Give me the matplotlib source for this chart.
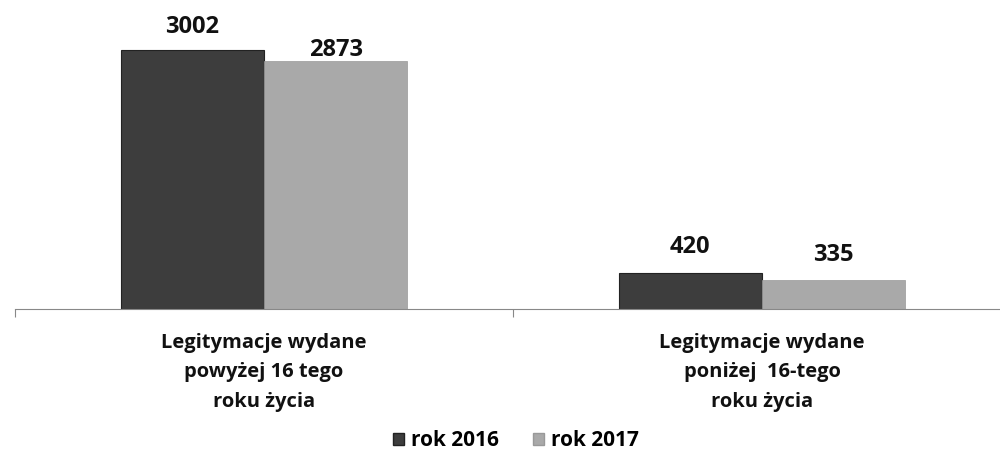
import matplotlib
matplotlib.use('Agg')
import matplotlib.pyplot as plt
from matplotlib.patches import Patch
import numpy as np

plt.rcParams['font.family'] = ['Open Sans', 'DejaVu Sans']

categories = ['Legitymacje wydane\npowyżej 16 tego\nroku życia',
              'Legitymacje wydane\nponiżej  16-tego\nroku życia']
series_names = ['rok 2016', 'rok 2017']
vals_2016 = [3002, 420]
vals_2017 = [2873, 335]

DARK = '#3d3d3d'
LIGHT = '#a9a9a9'
BAR_W = 0.288
# label gap above bar top, in pixels (2016 bars, 2017 bars)
GAP_2016 = [17, 20]
GAP_2017 = [5, 19]

fig = plt.figure(figsize=(10, 4.63), dpi=100)
ax = fig.add_axes([0.015, 154 / 463, 0.996, 302 / 463])

x = np.arange(len(categories))
b1 = ax.bar(x - BAR_W / 2, vals_2016, BAR_W, color=DARK, edgecolor='#222222', lw=0.8)
b2 = ax.bar(x + BAR_W / 2, vals_2017, BAR_W, color=LIGHT, edgecolor='#999999', lw=0.5)

for bars, gaps in ((b1, GAP_2016), (b2, GAP_2017)):
    for r, g in zip(bars, gaps):
        ax.annotate(f'{int(r.get_height())}', (r.get_x() + r.get_width() / 2, r.get_height()),
                    xytext=(0, g), textcoords='offset pixels', ha='center', va='baseline',
                    fontsize=17, fontweight='bold', color='#111111')

ax.set_xlim(-0.5, 1.5)
ax.set_ylim(0, 3500)
for s in ('top', 'right', 'left'):
    ax.spines[s].set_visible(False)
ax.spines['bottom'].set_color('#888888')
ax.spines['bottom'].set_linewidth(0.8)
ax.set_yticks([])
ax.set_xticks([-0.5, 0.5, 1.5])
ax.set_xticklabels([])
ax.tick_params(axis='x', direction='out', length=6, color='#888888', width=0.8)

for xi, lab in zip(x, categories):
    ax.annotate(lab, (xi, 0), xytext=(0, -24), textcoords='offset pixels',
                ha='center', va='top', fontsize=14.5, fontweight='bold',
                linespacing=1.62, color='#111111')

handles = [Patch(facecolor=DARK, edgecolor='#222222'), Patch(facecolor=LIGHT, edgecolor='#999999')]
fig.legend(handles, series_names, loc='center', bbox_to_anchor=(0.516, 0.048), ncol=2,
           frameon=False, prop={'size': 15, 'weight': 'bold'}, handlelength=0.55,
           handleheight=0.55, handletextpad=0.35, columnspacing=1.6)

fig.savefig('out.png', dpi=100, facecolor='white')
plt.close()
